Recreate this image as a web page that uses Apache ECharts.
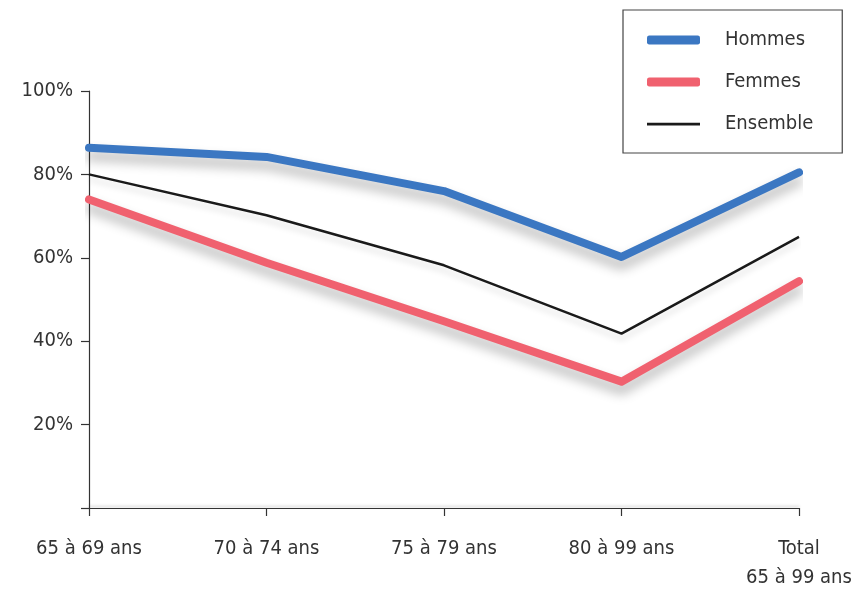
<!DOCTYPE html>
<html>
<head>
<meta charset="utf-8">
<script src="https://cdn.jsdelivr.net/npm/echarts@6/dist/echarts.min.js"></script>
<style>
html,body{margin:0;padding:0;background:#fff;}
#c{width:857px;height:592px;}
</style>
</head>
<body>
<div id="c"></div>
<script>
const categories = ['65 à 69 ans', '70 à 74 ans', '75 à 79 ans', '80 à 99 ans', 'Total\n65 à 99 ans'];
const hommes = [86.4, 84.2, 76, 60.2, 80.5];
const femmes = [74, 58.8, 44.8, 30.3, 54.4];
const ensemble = [80, 70.2, 58.2, 41.8, 65];
const yTicks = [0, 20, 40, 60, 80, 100];

const FONT = '"Liberation Sans Narrow", "DejaVu Sans Condensed", sans-serif';
const BLUE = '#3b77c2', RED = '#f0616f', BLACK = '#1a1a1a';
const chart = echarts.init(document.getElementById('c'), null, {renderer: 'canvas'});
chart.setOption({
  animation: false,
  backgroundColor: '#fff',
  textStyle: {fontFamily: FONT},
  grid: {left: 89, right: 58, top: 91, bottom: 82, containLabel: false},
  legend: {
    orient: 'vertical',
    left: 623, top: 10,
    padding: [20, 29, 19, 24],
    borderColor: '#444', borderWidth: 1.2,
    itemWidth: 53, itemHeight: 9, itemGap: 22,
    textStyle: {fontFamily: FONT, fontSize: 20, lineHeight: 20, color: '#333', padding: [0, 0, 0, 20]},
    data: [
      {name: 'Hommes', icon: 'roundRect', itemStyle: {color: BLUE}},
      {name: 'Femmes', icon: 'roundRect', itemStyle: {color: RED}},
      {name: 'Ensemble', icon: 'path://M0,0h0.01v0.01h-0.01z M0,3.2h53v2.8h-53z M0,9h0.01v-0.01h-0.01z', itemStyle: {color: BLACK}}
    ]
  },
  xAxis: {
    type: 'category',
    data: categories,
    boundaryGap: false,
    axisLine: {show: true, lineStyle: {color: '#333', width: 1.2, shadowColor: 'rgba(0,0,0,0.25)', shadowBlur: 3, shadowOffsetY: -2}},
    axisTick: {show: true, length: 8, lineStyle: {color: '#333', width: 1.2}},
    axisLabel: {fontFamily: FONT, fontSize: 20, color: '#333', margin: 26, lineHeight: 29},
    splitLine: {show: false}
  },
  yAxis: {
    type: 'value',
    min: yTicks[0], max: yTicks[yTicks.length - 1], interval: 20,
    axisLine: {show: true, lineStyle: {color: '#333', width: 1.2}},
    axisTick: {show: true, length: 8, lineStyle: {color: '#333', width: 1.2}},
    axisLabel: {fontFamily: FONT, fontSize: 20, color: '#333', margin: 16,
      formatter: v => v === 0 ? '' : v + '%'},
    splitLine: {show: false}
  },
  series: [
    {name: 'Hommes', type: 'line', data: hommes, symbol: 'none',
      lineStyle: {color: BLUE, width: 8, cap: 'round', join: 'round',
        shadowColor: 'rgba(0,0,0,0.3)', shadowBlur: 12, shadowOffsetY: 8},
      itemStyle: {color: BLUE}, z: 3},
    {name: 'Femmes', type: 'line', data: femmes, symbol: 'none',
      lineStyle: {color: RED, width: 8, cap: 'round', join: 'round',
        shadowColor: 'rgba(0,0,0,0.3)', shadowBlur: 12, shadowOffsetY: 8},
      itemStyle: {color: RED}, z: 3},
    {name: 'Ensemble', type: 'line', data: ensemble, symbol: 'none',
      lineStyle: {color: BLACK, width: 2.5,
        shadowColor: 'rgba(0,0,0,0.15)', shadowBlur: 6, shadowOffsetY: 5},
      itemStyle: {color: BLACK}, z: 4}
  ]
});
</script>
</body>
</html>
